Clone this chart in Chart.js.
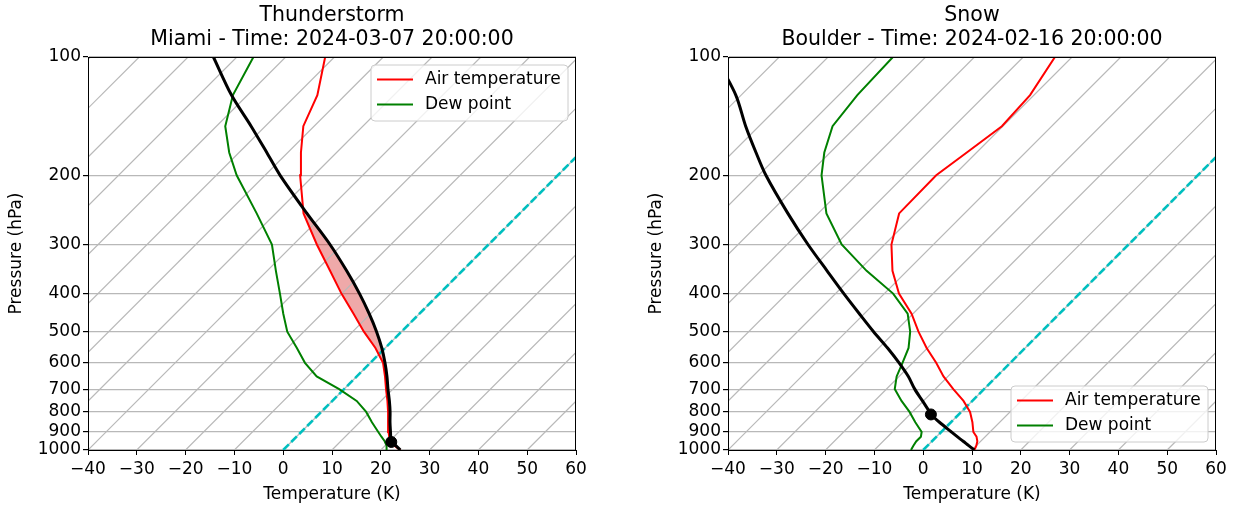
<!DOCTYPE html>
<html>
<head>
<meta charset="utf-8">
<script src="https://cdn.jsdelivr.net/npm/chart.js@4.4.0/dist/chart.umd.min.js"></script>
<style>
  html, body { margin: 0; padding: 0; background: #fff; }
  #wrap { position: relative; width: 1239px; height: 508px; }
  #left, #right { position: absolute; top: 0; }
  #left { left: 0; }
  #right { left: 620px; }
</style>
</head>
<body>
<div id="wrap">
  <canvas id="left" width="620" height="508"></canvas>
  <canvas id="right" width="619" height="508"></canvas>
</div>
<script>
// sounding levels (hPa), shared by both soundings
const pressureLevels = [1000, 975, 950, 925, 900, 850, 800, 750, 700, 650, 600, 550, 500, 450, 400, 350, 300, 250, 200, 175, 150, 125, 100];

// Miami thunderstorm sounding (deg C)
const miamiTemp   = [24.0, 21.9, 20.0, 19.0, 17.9, 15.8, 13.7, 11.3, 8.6, 5.8, 2.6, -2.0, -7.7, -13.5, -20.1, -27.1, -35.2, -44.3, -52.8, -57.3, -62.2, -65.7, -71.9];
const miamiDew    = [21.2, 20.3, 19.0, 17.4, 15.8, 12.5, 9.2, 5.0, -1.0, -8.2, -13.4, -18.1, -23.4, -27.9, -32.7, -38.2, -44.4, -53.9, -65.8, -72.0, -78.2, -83.0, -86.6];
const miamiParcel = [24.0, 22.2, 20.3, 19.3, 18.3, 16.2, 14.1, 11.7, 9.0, 6.2, 3.0, -0.7, -5.1, -10.3, -16.4, -23.7, -32.5, -43.6, -56.9, -64.3, -72.9, -83.3, -94.8];
const miamiLcl = [954, 20.5];

// Boulder snow sounding (deg C)
const boulderTemp   = [10.5, 10.0, 9.3, 8.2, 6.6, 4.4, 1.8, -1.8, -6.3, -10.9, -15.2, -20.2, -25.2, -30.3, -37.0, -43.0, -48.6, -53.4, -53.6, -52.0, -50.2, -50.8, -53.5];
const boulderDew    = [-2.5, -2.9, -3.2, -3.2, -4.0, -7.3, -10.6, -14.5, -18.3, -20.5, -22.1, -23.9, -26.9, -31.1, -38.2, -48.3, -58.8, -68.3, -77.1, -81.2, -84.9, -86.2, -86.7];
const boulderParcel = [10.5, 8.45, 6.4, 4.25, 2.1, -2.35, -6.5, -10.2, -14.2, -18.1, -22.8, -28.2, -34.4, -41.0, -48.3, -56.4, -65.7, -76.2, -88.5, -95.2, -102.7, -111.1, -123.0];
const boulderLcl = [812, -5.7];

const xTicks = [-40, -30, -20, -10, 0, 10, 20, 30, 40, 50, 60];
const yTicks = [100, 200, 300, 400, 500, 600, 700, 800, 900, 1000];

const SKEW = 80.5;       // x shift per decade of pressure
const FONT = 'DejaVu Sans';

function skewed(levels, temps) {
  return levels.map((p, i) => ({ x: temps[i] + SKEW * Math.log10(1000 / p), y: p }));
}

// crossing between level i-1 and i where parcel - env changes sign
function crossing(levels, parcel, env, i) {
  const d0 = parcel[i - 1] - env[i - 1];
  const d1 = parcel[i] - env[i];
  const f = d0 / (d0 - d1);
  const lp = Math.log(levels[i - 1]) + f * (Math.log(levels[i]) - Math.log(levels[i - 1]));
  return [Math.exp(lp), env[i - 1] + f * (env[i] - env[i - 1])];
}

// areas where the parcel is warmer than the environment
function positiveAreas(levels, parcel, env) {
  const areas = [];
  let cur = null;
  for (let i = 0; i < levels.length; i++) {
    const d = parcel[i] - env[i];
    if (d > 0) {
      if (!cur) {
        cur = { p: [], tp: [], te: [] };
        if (i > 0) {
          const [p, t] = crossing(levels, parcel, env, i);
          cur.p.push(p); cur.tp.push(t); cur.te.push(t);
        }
      }
      cur.p.push(levels[i]); cur.tp.push(parcel[i]); cur.te.push(env[i]);
    } else if (cur) {
      const [p, t] = crossing(levels, parcel, env, i);
      cur.p.push(p); cur.tp.push(t); cur.te.push(t);
      areas.push(cur);
      cur = null;
    }
  }
  if (cur) areas.push(cur);
  return areas.map(a => skewed(a.p, a.tp).concat(skewed(a.p, a.te).reverse()));
}

const fmtTick = v => (v < 0 ? '\u2212' + Math.abs(v) : String(v));

const decor = {
  id: 'decor',
  afterDraw(chart, args, opts) {
    const { ctx, chartArea: a } = chart;
    ctx.save();
    // frame
    ctx.strokeStyle = '#000';
    ctx.lineWidth = 1;
    ctx.strokeRect(Math.round(a.left) + 0.5, Math.round(a.top) + 0.5, Math.round(a.right - a.left) - 1, Math.round(a.bottom - a.top));
    // title
    ctx.fillStyle = '#000';
    ctx.font = '20.5px "' + FONT + '"';
    ctx.textAlign = 'center';
    ctx.textBaseline = 'middle';
    const cx = (a.left + a.right) / 2;
    ctx.fillText(opts.title[0], cx, 16);
    ctx.fillText(opts.title[1], cx, 40);
    // legend
    const items = chart.data.datasets.filter(d => d.inLegend);
    const w = 197, h = 56;
    const x0 = a.right - 8 - w;
    const y0 = opts.legendAt === 'lower' ? a.bottom - 8 - h : a.top + 8;
    const r = 4;
    ctx.beginPath();
    ctx.moveTo(x0 + r, y0);
    ctx.arcTo(x0 + w, y0, x0 + w, y0 + h, r);
    ctx.arcTo(x0 + w, y0 + h, x0, y0 + h, r);
    ctx.arcTo(x0, y0 + h, x0, y0, r);
    ctx.arcTo(x0, y0, x0 + w, y0, r);
    ctx.closePath();
    ctx.fillStyle = 'rgba(255,255,255,0.8)';
    ctx.fill();
    ctx.strokeStyle = '#cccccc';
    ctx.stroke();
    ctx.font = '17px "' + FONT + '"';
    ctx.textAlign = 'left';
    items.forEach((d, i) => {
      const y = y0 + 14.5 + i * 25;
      ctx.strokeStyle = d.borderColor;
      ctx.lineWidth = 2;
      ctx.beginPath();
      ctx.moveTo(x0 + 6, y);
      ctx.lineTo(x0 + 42, y);
      ctx.stroke();
      ctx.fillStyle = '#000';
      ctx.fillText(d.label, x0 + 54, y);
    });
    ctx.restore();
  }
};

function makeSkewT(id, cfg) {
  const datasets = [];
  for (let t = -120; t <= 50; t += 10) {
    datasets.push({ data: skewed([1000, 100], [t, t]), borderColor: '#b8b8b8', borderWidth: 1.2, pointRadius: 0, showLine: true, order: 9 });
  }
  datasets.push({ data: skewed([1000, 100], [0, 0]), borderColor: '#00bfbf', borderWidth: 2.6, borderDash: [8, 3.3], pointRadius: 0, showLine: true, order: 5 });
  positiveAreas(pressureLevels, cfg.parcel, cfg.temp).forEach(poly => {
    datasets.push({ data: poly, showLine: true, fill: 'shape', backgroundColor: 'rgba(214,39,40,0.4)', borderColor: 'rgba(0,0,0,0)', borderWidth: 0, pointRadius: 0, order: 10 });
  });
  datasets.push({ label: 'Air temperature', inLegend: true, data: skewed(pressureLevels, cfg.temp), borderColor: '#ff0000', borderWidth: 2, pointRadius: 0, showLine: true, order: 3 });
  datasets.push({ label: 'Dew point', inLegend: true, data: skewed(pressureLevels, cfg.dew), borderColor: '#008000', borderWidth: 2, pointRadius: 0, showLine: true, order: 3 });
  const parcelPts = skewed(pressureLevels, cfg.parcel).concat(skewed([cfg.lcl[0]], [cfg.lcl[1]])).sort((a, b) => b.y - a.y);
  datasets.push({ data: parcelPts, borderColor: '#000', borderWidth: 3, pointRadius: 0, showLine: true, tension: 0.3, order: 2 });
  datasets.push({ data: skewed([cfg.lcl[0]], [cfg.lcl[1]]), backgroundColor: '#000', borderColor: '#000', pointRadius: 5.5, showLine: false, order: 1 });

  const tickFont = { family: FONT, size: 17 };
  return new Chart(document.getElementById(id), {
    type: 'scatter',
    data: { datasets },
    plugins: [decor],
    options: {
      responsive: false,
      animation: false,
      events: [],
      layout: { padding: { top: 57, right: cfg.padRight, left: cfg.padLeft, bottom: 0 } },
      plugins: {
        legend: { display: false },
        tooltip: { enabled: false },
        decor: { title: cfg.title, legendAt: cfg.legendAt }
      },
      scales: {
        x: {
          type: 'linear', min: -40, max: 60,
          afterBuildTicks: s => { s.ticks = xTicks.map(v => ({ value: v })); },
          afterFit: s => { s.height = 58; },
          grid: { drawOnChartArea: false, tickLength: 5, tickColor: '#000' },
          border: { color: '#000', width: 1 },
          ticks: { color: '#000', font: tickFont, padding: 4, maxRotation: 0, autoSkip: false, callback: fmtTick },
          title: { display: true, text: 'Temperature (K)', color: '#000', font: tickFont, padding: { top: 0, bottom: 3 } }
        },
        y: {
          type: 'logarithmic', min: 100, max: 1000, reverse: true,
          afterBuildTicks: s => { s.ticks = yTicks.map(v => ({ value: v })); },
          afterFit: s => { s.width = 88; },
          grid: { color: '#b8b8b8', lineWidth: 1.2, tickLength: 5, tickColor: '#000' },
          border: { color: '#000', width: 1 },
          ticks: { color: '#000', font: tickFont, padding: 2, autoSkip: false, callback: v => String(v) },
          title: { display: true, text: 'Pressure (hPa)', color: '#000', font: tickFont, padding: { top: 6, bottom: 0 } }
        }
      }
    }
  });
}

makeSkewT('left', {
  title: ['Thunderstorm', 'Miami - Time: 2024-03-07 20:00:00'],
  temp: miamiTemp, dew: miamiDew, parcel: miamiParcel, lcl: miamiLcl,
  legendAt: 'upper', padLeft: 0, padRight: 44
});
makeSkewT('right', {
  title: ['Snow', 'Boulder - Time: 2024-02-16 20:00:00'],
  temp: boulderTemp, dew: boulderDew, parcel: boulderParcel, lcl: boulderLcl,
  legendAt: 'lower', padLeft: 20, padRight: 23
});
</script>
</body>
</html>
